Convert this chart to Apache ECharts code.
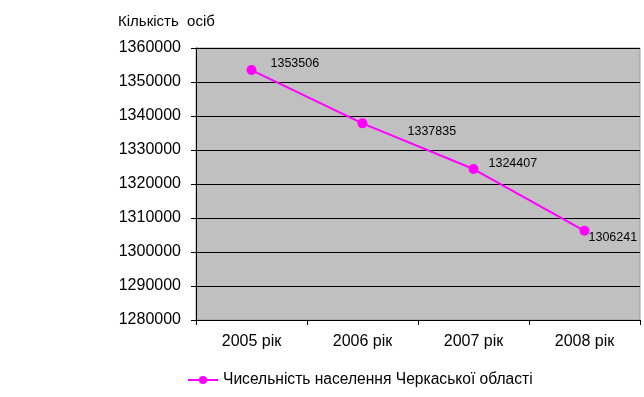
<html lang="uk">
<head>
  <meta charset="UTF-8">
  <title>Чисельність населення</title>
  <style>
    body { margin: 0; background: #fff; }
    #chart { width: 644px; height: 397px; }
  </style>
</head>
<body>
  <div id="chart"></div>
  <script src="https://cdn.jsdelivr.net/npm/echarts@6/dist/echarts.min.js"></script>
  <script>
    const years = ['2005 рік', '2006 рік', '2007 рік', '2008 рік']
    const population = [1353506, 1337835, 1324407, 1306241]
    const seriesName = 'Чисельність населення Черкаської області'
    // where each value label sits relative to its point
    const labelShift = [[9, -7], [35, 8], [5, -5], [-6, 7]]

    const font = 'Liberation Sans, Arial, sans-serif'
    const chart = echarts.init(document.querySelector('#chart'))
    chart.setOption({
      animation: false,
      textStyle: { fontFamily: font },
      title: {
        text: 'Кількість  осіб',
        left: 113,
        top: 9,
        textStyle: { fontSize: 15, fontWeight: 'normal', color: '#000', fontFamily: font }
      },
      grid: {
        left: 196, right: 4, top: 48, bottom: 77,
        show: true, backgroundColor: '#c0c0c0', borderColor: '#9a9a9a', borderWidth: 1
      },
      legend: {
        left: 182, top: 367,
        itemWidth: 30, itemHeight: 10, itemGap: 4,
        textStyle: { fontSize: 15.6, color: '#000', fontFamily: font },
        data: [seriesName]
      },
      xAxis: {
        type: 'category',
        data: years,
        boundaryGap: true,
        axisLine: { lineStyle: { color: '#000' } },
        axisTick: { show: true, length: 5, lineStyle: { color: '#000' } },
        axisLabel: { fontSize: 16, color: '#000', margin: 14 }
      },
      yAxis: {
        type: 'value',
        min: 1280000, max: 1360000, interval: 10000,
        axisLine: { show: true, lineStyle: { color: '#000' } },
        axisTick: { show: true, length: 5, lineStyle: { color: '#000' } },
        axisLabel: { fontSize: 16, color: '#000', margin: 15, formatter: v => String(v) },
        splitLine: { lineStyle: { color: '#000', width: 1 } }
      },
      series: [{
        name: seriesName,
        type: 'line',
        data: population.map((v, i) => ({
          value: v,
          label: { offset: labelShift[i] }
        })),
        color: '#ff00ff',
        symbol: 'circle',
        symbolSize: 10,
        lineStyle: { width: 2, color: '#ff00ff' },
        itemStyle: { color: '#ff00ff' },
        label: {
          show: true,
          position: 'right',
          fontSize: 12.5,
          color: '#000'
        }
      }]
    })
  </script>
</body>
</html>
